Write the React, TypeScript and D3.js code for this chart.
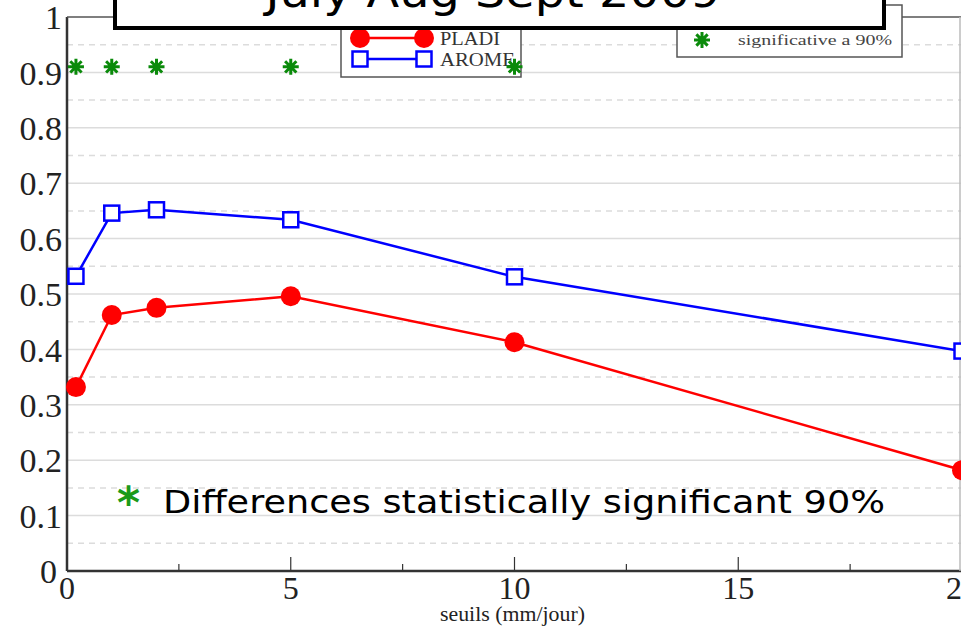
import React from "react";
import * as d3 from "d3";

const thresholds = [0.2, 1, 2, 5, 10, 20];
const pladi = [0.332, 0.462, 0.475, 0.496, 0.413, 0.182];
const arome = [0.532, 0.646, 0.652, 0.634, 0.531, 0.397];
const signifX = [0.2, 1, 2, 5, 10];
const signifY = 0.91;
const xTicks = [0, 5, 10, 15, 20];
const yTicks = [0, 0.1, 0.2, 0.3, 0.4, 0.5, 0.6, 0.7, 0.8, 0.9, 1];
const yTickLabels = ["0", "0.1", "0.2", "0.3", "0.4", "0.5", "0.6", "0.7", "0.8", "0.9", "1"];
const title = "July Aug Sept 2009";
const xLabel = "seuils (mm/jour)";
const legendNames = ["PLADI", "AROME"];
const legend2 = "significative a 90%";
const note = "Differences statistically  significant 90%";

const W = 961;
const H = 627;

function star(cx: number, cy: number, r: number) {
  const parts: string[] = [];
  for (let i = 0; i < 4; i++) {
    const a = (i * Math.PI) / 4;
    const dx = Math.cos(a) * r;
    const dy = Math.sin(a) * r;
    parts.push(`M${cx - dx},${cy - dy}L${cx + dx},${cy + dy}`);
  }
  return parts.join("");
}

export default function App() {
  const x = d3.scaleLinear().domain([0, 20]).range([67, 962]);
  const y = d3.scaleLinear().domain([0, 1]).range([571, 17]);
  const line = d3
    .line<number>()
    .x((_, i) => x(thresholds[i]))
    .y((d) => y(d));
  const halfTicks = d3.range(0.05, 1, 0.1);
  const minorX = [2.5, 7.5, 12.5, 17.5];
  const serif = "'Liberation Serif', 'Times New Roman', serif";
  const comic = "'Comic Sans MS', 'DejaVu Sans', sans-serif";
  const sq = 15;

  return (
    <svg
      width={W}
      height={H}
      style={{ position: "absolute", left: 0, top: 0, background: "#fff" }}
    >
      <rect x={0} y={0} width={W} height={H} fill="#fff" />
      {/* grid */}
      {yTicks.slice(1, -1).map((t) => (
        <line key={"g" + t} x1={x(0)} x2={W} y1={y(t)} y2={y(t)} stroke="#dcdcdc" strokeWidth={1.5} />
      ))}
      {halfTicks.map((t) => (
        <line
          key={"h" + t}
          x1={x(0)}
          x2={W}
          y1={y(t)}
          y2={y(t)}
          stroke="#dcdcdc"
          strokeWidth={1.5}
          strokeDasharray="6,5"
        />
      ))}
      {/* frame */}
      <line x1={x(0)} x2={W} y1={y(0)} y2={y(0)} stroke="#333" strokeWidth={2.5} />
      <line x1={x(0)} x2={x(0)} y1={y(0)} y2={y(1)} stroke="#333" strokeWidth={2.5} />
      <line x1={x(0)} x2={W} y1={y(1)} y2={y(1)} stroke="#555" strokeWidth={1.5} />
      <line x1={W - 1} x2={W - 1} y1={y(0)} y2={y(1)} stroke="#bbb" strokeWidth={1.5} />
      {xTicks.map((t) => (
        <line key={"xt" + t} x1={x(t)} x2={x(t)} y1={y(0)} y2={y(0) - 14} stroke="#333" strokeWidth={1.2} />
      ))}
      {minorX.map((t) => (
        <line key={"xm" + t} x1={x(t)} x2={x(t)} y1={y(0)} y2={y(0) - 7} stroke="#333" strokeWidth={1.2} />
      ))}
      {/* tick labels */}
      {yTicks.map((t, i) => (
        <text
          key={"yl" + t}
          x={i === 0 ? 57 : 62}
          y={y(t)}
          dy="0.36em"
          textAnchor="end"
          fontFamily={serif}
          fontSize={34}
          fill="#222"
        >
          {yTickLabels[i]}
        </text>
      ))}
      {xTicks.map((t) => (
        <text
          key={"xl" + t}
          x={x(t)}
          y={599}
          textAnchor="middle"
          fontFamily={serif}
          fontSize={32}
          fill="#222"
        >
          {t}
        </text>
      ))}
      <text
        x={x(10) - 2}
        y={621}
        textAnchor="middle"
        fontFamily={serif}
        fontSize={20}
        fill="#222"
        textLength={145}
        lengthAdjust="spacingAndGlyphs"
      >
        {xLabel}
      </text>
      {/* series */}
      <path d={line(arome) || ""} fill="none" stroke="#0000ff" strokeWidth={2.5} />
      <path d={line(pladi) || ""} fill="none" stroke="#ff0000" strokeWidth={2.5} />
      {pladi.map((v, i) => (
        <circle key={"p" + i} cx={x(thresholds[i])} cy={y(v)} r={10} fill="#ff0000" />
      ))}
      {arome.map((v, i) => (
        <rect
          key={"a" + i}
          x={x(thresholds[i]) - sq / 2}
          y={y(v) - sq / 2}
          width={sq}
          height={sq}
          fill="#fff"
          stroke="#0000ff"
          strokeWidth={2.5}
        />
      ))}
      {/* legend 1 */}
      <rect x={341} y={5} width={180} height={72} fill="#fff" stroke="#555" strokeWidth={1.5} />
      <line x1={360} x2={424} y1={38} y2={38} stroke="#ff0000" strokeWidth={2.5} />
      <circle cx={360} cy={38} r={10} fill="#ff0000" />
      <circle cx={424} cy={38} r={10} fill="#ff0000" />
      <line x1={360} x2={424} y1={59} y2={59} stroke="#0000ff" strokeWidth={2.5} />
      <rect x={360 - sq / 2} y={59 - sq / 2} width={sq} height={sq} fill="#fff" stroke="#0000ff" strokeWidth={2.5} />
      <rect x={424 - sq / 2} y={59 - sq / 2} width={sq} height={sq} fill="#fff" stroke="#0000ff" strokeWidth={2.5} />
      <text x={440} y={45} fontFamily={serif} fontSize={18} fill="#333" textLength={60} lengthAdjust="spacingAndGlyphs">
        {legendNames[0]}
      </text>
      <text x={440} y={66} fontFamily={serif} fontSize={18} fill="#333" textLength={75} lengthAdjust="spacingAndGlyphs">
        {legendNames[1]}
      </text>
      {/* legend 2 */}
      <rect x={677} y={5} width={225} height={52} fill="#fff" stroke="#555" strokeWidth={1.5} />
      <path d={star(702, 40, 8)} stroke="#0a8a0a" strokeWidth={3} />
      <text x={738} y={45} fontFamily={serif} fontSize={15} fill="#444" textLength={154} lengthAdjust="spacingAndGlyphs">
        {legend2}
      </text>
      {/* significance stars */}
      {signifX.map((s) => (
        <path key={"s" + s} d={star(x(s), y(signifY), 8)} stroke="#0a8a0a" strokeWidth={3} />
      ))}
      {/* title box */}
      <rect x={115} y={-20} width={769} height={48} fill="#fff" stroke="#000" strokeWidth={4} />
      <text
        x={493}
        y={7}
        textAnchor="middle"
        fontFamily={comic}
        fontSize={42}
        fill="#000"
        textLength={455}
        lengthAdjust="spacingAndGlyphs"
      >
        {title}
      </text>
      {/* note */}
      <text x={117} y={518} fontFamily={comic} fontSize={44} fontWeight="bold" fill="#1a9a1a">
        *
      </text>
      <text
        x={163}
        y={513}
        fontFamily={comic}
        fontSize={32}
        fill="#000"
        textLength={722}
        lengthAdjust="spacingAndGlyphs"
      >
        {note}
      </text>
    </svg>
  );
}
